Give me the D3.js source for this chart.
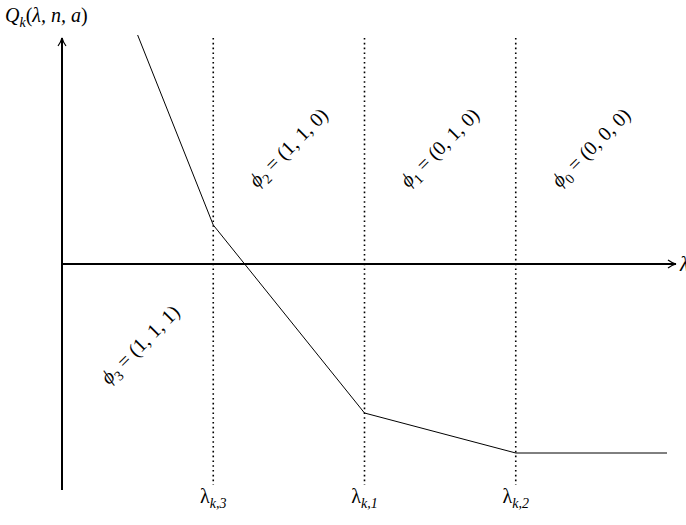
<!DOCTYPE html>
<html>
<head>
<meta charset="utf-8">
<script src="https://cdn.jsdelivr.net/npm/d3@7"></script>
<style>
  body { margin: 0; background: #fff; }
  text { font-family: "Liberation Serif", "DejaVu Serif", serif; font-size: 20px; }
</style>
</head>
<body>
<svg id="chart" width="686" height="525"></svg>
<script>
// thresholds on the lambda axis (in axis units)
const thresholds = [1, 2, 3]
const thresholdLabels = [["λ", "k,3"], ["λ", "k,1"], ["λ", "k,2"]]
// piecewise-linear Q curve
const curveX = [0.5, 1, 2, 3, 4]
const curveQ = [2.29, 0.39, -1.49, -1.89, -1.89]
// region labels: [x, q, phi index, value]
const regions = [
  [1.5, 1.16, "2", "(1, 1, 0)"],
  [2.5, 1.16, "1", "(0, 1, 0)"],
  [3.5, 1.16, "0", "(0, 0, 0)"],
  [0.52, -0.81, "3", "(1, 1, 1)"]
]

const svg = d3.select("#chart")
const x = d3.scaleLinear().domain([0, 4]).range([62, 667])
const y = d3.scaleLinear().domain([-2.26, 2.26]).range([490, 38])

svg.append("defs").append("marker")
  .attr("id", "arr").attr("viewBox", "0 0 10 10")
  .attr("refX", 9).attr("refY", 5)
  .attr("markerWidth", 10).attr("markerHeight", 10)
  .attr("markerUnits", "userSpaceOnUse").attr("orient", "auto")
  .append("path").attr("d", "M1,1 Q5,4 9,5 Q5,6 1,9")
  .attr("fill", "none").attr("stroke", "#000").attr("stroke-width", 1.2)

// axes
svg.append("line").attr("x1", x(0)).attr("x2", x(0))
  .attr("y1", y(-2.26)).attr("y2", y(2.26))
  .attr("stroke", "#000").attr("stroke-width", 2).attr("marker-end", "url(#arr)")
svg.append("line").attr("x1", x(0)).attr("x2", 676)
  .attr("y1", y(0)).attr("y2", y(0))
  .attr("stroke", "#000").attr("stroke-width", 2).attr("marker-end", "url(#arr)")

svg.append("text").attr("x", 680).attr("y", y(0) + 7)
  .style("font-style", "italic").text("λ")

// Q label
const ql = svg.append("text").attr("x", 5).attr("y", 22).style("font-style", "italic")
ql.append("tspan").text("Q")
ql.append("tspan").attr("dy", 5).style("font-size", "14px").text("k")
ql.append("tspan").attr("dy", -5).style("font-style", "normal").text("(")
ql.append("tspan").text("λ, n, a")
ql.append("tspan").style("font-style", "normal").text(")")

// dotted thresholds
svg.selectAll(".thr").data(thresholds).join("line")
  .attr("x1", d => x(d)).attr("x2", d => x(d))
  .attr("y1", y(2.26)).attr("y2", y(-2.21))
  .attr("stroke", "#000").attr("stroke-width", 1.6)
  .attr("stroke-dasharray", "1.6,3.2")

thresholds.forEach((d, i) => {
  const t = svg.append("text").attr("x", x(d)).attr("y", 503).attr("text-anchor", "middle")
  t.append("tspan").text(thresholdLabels[i][0])
  t.append("tspan").attr("dy", 5).style("font-size", "14px").style("font-style", "italic").text(thresholdLabels[i][1])
})

// curve
svg.append("path")
  .datum(curveX.map((d, i) => [d, curveQ[i]]))
  .attr("d", d3.line().x(d => x(d[0])).y(d => y(d[1])))
  .attr("fill", "none").attr("stroke", "#000").attr("stroke-width", 1)

// region labels
regions.forEach(r => {
  const t = svg.append("text")
    .attr("transform", `translate(${x(r[0])},${y(r[1])}) rotate(-45)`)
    .attr("text-anchor", "middle").attr("dy", 6)
  t.append("tspan").style("font-style", "italic").text("ϕ")
  t.append("tspan").attr("dy", 5).style("font-size", "14px").text(r[2])
  t.append("tspan").attr("dy", -5).text(" = " + r[3])
})
</script>
</body>
</html>
